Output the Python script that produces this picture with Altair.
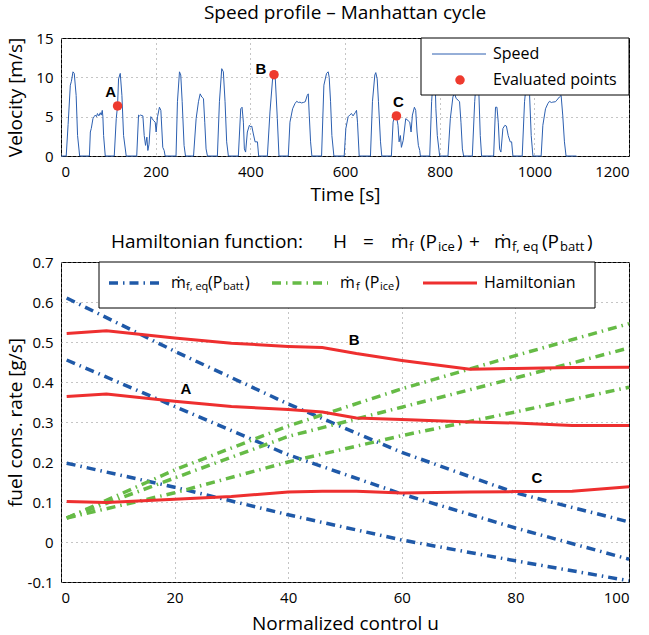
import altair as alt
import pandas as pd

FONT = "Open Sans"
LBL_FONT = "Liberation Sans"

# ---------------- Speed profile (Manhattan cycle) ----------------
speed_t = [0, 11, 15, 19.7, 22, 25.3, 28, 32, 35, 39.4,
           60, 62, 64, 67.5, 70, 72.4, 75, 77, 80, 83, 85, 87.2, 88.5, 90, 93.5,
           112.5, 116.7, 119.5, 121.6, 125.2, 128.7, 132.2, 137.8,
           160, 163.8, 166, 168, 173, 175.8, 178.6, 181.4, 183.5, 186, 189.8, 192, 195.5, 199, 201, 204, 208, 211, 215, 218, 220,
           243, 246, 250.3, 253, 256, 260, 263,
           280, 285.5, 290.4, 294, 297.4, 301, 303.7, 306.5, 309.4,
           330.4, 334.7, 339.6, 343, 346.6, 350, 353.6,
           374.7, 379.7, 382.5, 385.3, 387.4, 390, 393.7, 398, 401, 403, 406.4, 410, 415, 417.6,
           436, 441.5, 447, 450, 452.8, 457, 460.5,
           480.2, 483.7, 489.3, 494.2, 497.8, 502, 504.8, 508, 511.8, 516, 520.2, 522.4, 524.5, 527.3, 530,
           550.5, 555.4, 561, 564.5, 566.6, 569.5, 572.3, 576.5,
           598.3, 601.8, 606.7, 610, 613.7, 617, 621.5, 624.3, 626.4, 630,
           653.8, 658, 663, 665, 668, 670.7, 675, 677.7,
           698, 701.6, 705, 708.7, 712, 714.3, 717, 719.2, 723, 728.3, 733.3, 736.8, 739.6, 742.4, 746.6, 749.4, 752.2, 755, 757.9, 759.3,
           779, 783, 787.4, 790, 792, 795, 800,
           817.6, 822.5, 828, 831, 835, 839, 842, 845, 848, 850.6,
           869, 874, 877.4, 881, 883, 885.8, 888.6,
           914, 918, 921, 923.8, 926.6, 929.4, 933.6, 937.8, 941, 944.8, 949, 952, 954.7,
           974.4, 979.3, 984, 987, 990, 993.4, 997,
           1014.4, 1018, 1023.6, 1028.5, 1032, 1036, 1039, 1044.7, 1047.5, 1053, 1056.6, 1060, 1063.6, 1067,
           1089]
speed_v = [0, 0, 4.0, 9.0, 9.5, 10.7, 10.5, 7.7, 2.6, 0,
           0, 3.05, 3.5, 4.75, 5.0, 5.2, 5.0, 5.4, 5.1, 5.5, 5.2, 5.8, 5.0, 2.6, 0,
           0, 4.75, 6.4, 9.8, 10.5, 7.7, 2.6, 0,
           0, 5.2, 5.1, 5.2, 5.1, 2.6, 1.35, 2.4, 0.7, 1.5, 5.0, 4.8, 4.5, 4.3, 3.05, 5.0, 6.2, 5.8, 1.1, 0.7, 0,
           0, 6.9, 10.7, 10.3, 6.9, 1.35, 0,
           0, 4.75, 6.9, 7.9, 7.5, 7.3, 4.3, 0.9, 0,
           0, 6.9, 11.1, 10.7, 6.9, 1.8, 0,
           0, 6.0, 6.2, 4.3, 0.9, 0.5, 3.05, 3.9, 3.7, 3.8, 2.8, 1.8, 1.8, 0,
           0, 5.6, 9.8, 10.3, 9.8, 4.75, 0,
           0, 4.3, 6.0, 6.65, 6.95, 6.8, 6.85, 6.75, 6.8, 6.9, 7.7, 7.9, 5.2, 1.8, 0,
           0, 9.0, 10.5, 10.7, 10.0, 6.9, 2.6, 0,
           0, 3.5, 5.0, 5.2, 5.4, 5.1, 5.5, 5.8, 4.3, 0,
           0, 6.9, 10.3, 10.6, 9.8, 6.9, 1.8, 0,
           0, 4.3, 5.2, 5.1, 3.9, 1.8, 2.6, 1.1, 2.0, 4.75, 4.5, 4.3, 3.05, 5.2, 6.2, 5.8, 3.05, 1.35, 0.7, 0,
           0, 6.9, 10.7, 10.5, 6.0, 2.6, 0,
           0, 4.75, 7.5, 8.0, 7.3, 7.1, 6.9, 4.3, 0.9, 0,
           0, 6.9, 9.8, 11.0, 7.7, 2.6, 0,
           0, 6.2, 6.2, 4.3, 0.9, 0.5, 3.5, 3.9, 3.8, 2.6, 1.8, 1.8, 0,
           0, 6.9, 9.8, 10.3, 7.7, 2.6, 0,
           0, 3.9, 6.0, 6.65, 6.95, 6.8, 6.85, 6.9, 7.1, 7.5, 7.7, 5.2, 1.8, 0,
           0]

eval_t = [119.5, 450, 708.7]
eval_v = [6.36, 10.34, 5.1]
eval_label = ["A", "B", "C"]

# ---------------- Hamiltonian function ----------------
u_lines = [1, 20, 40, 60, 80, 100]
batt_A = [0.455, 0.339, 0.218, 0.12, 0.035, -0.043]
batt_B = [0.61, 0.477, 0.345, 0.224, 0.123, 0.05]
batt_C = [0.197, 0.137, 0.068, 0.005, -0.047, -0.097]
ice_1 = [0.06, 0.18, 0.29, 0.383, 0.466, 0.546]
ice_2 = [0.06, 0.16, 0.264, 0.337, 0.41, 0.485]
ice_3 = [0.06, 0.123, 0.2, 0.266, 0.325, 0.387]

u_ham = [1, 8, 20, 30, 40, 46, 52, 60, 72, 80, 90, 100]
ham_A = [0.364, 0.37, 0.352, 0.339, 0.331, 0.325, 0.31, 0.306, 0.3, 0.2975, 0.291, 0.291]
ham_B = [0.521, 0.528, 0.51, 0.497, 0.489, 0.486, 0.471, 0.454, 0.432, 0.434, 0.436, 0.437]
ham_C = [0.101, 0.099, 0.107, 0.114, 0.125, 0.127, 0.127, 0.1225, 0.125, 0.126, 0.127, 0.138]

ham_label = ["A", "B", "C"]
ham_label_u = [22, 51.6, 83.8]
ham_label_v = [0.35, 0.472, 0.127]

BLUE_SPEED = "#2c5fb0"
RED = "#ee3a2e"
BLUE = "#1f59a8"
GREEN = "#66bb46"
HRED = "#ee2f2f"
DASHDOT = [9, 5, 1.5, 5]

speed_df = pd.DataFrame({"t": speed_t, "v": speed_v})
eval_df = pd.DataFrame({"t": eval_t, "v": eval_v, "lbl": eval_label})


def long(u, series):
    rows = []
    for name, vals in series.items():
        for x, y in zip(u, vals):
            rows.append({"u": x, "v": y, "s": name})
    return pd.DataFrame(rows)


batt_df = long(u_lines, {"A": batt_A, "B": batt_B, "C": batt_C})
ice_df = long(u_lines, {"1": ice_1, "2": ice_2, "3": ice_3})
ham_df = long(u_ham, {"A": ham_A, "B": ham_B, "C": ham_C})
hlab_df = pd.DataFrame({"u": ham_label_u, "v": ham_label_v, "lbl": ham_label})

ONE = pd.DataFrame({"k": [0]})


def txt(s, x, y, size, dy=0, weight="normal", font=FONT):
    return alt.Chart(ONE).mark_text(text=s, align="left", baseline="middle", fontSize=size,
                                    font=font, fontWeight=weight, dy=dy, color="black").encode(
        x=alt.value(x), y=alt.value(y))


def swatch(x1, x2, y, color, width, dash=None):
    kw = dict(color=color, strokeWidth=width)
    if dash:
        kw["strokeDash"] = dash
    return alt.Chart(ONE).mark_rule(**kw).encode(x=alt.value(x1), x2=alt.value(x2), y=alt.value(y))


def box(x1, x2, y1, y2):
    return alt.Chart(ONE).mark_rect(fill="white", stroke="black", strokeWidth=1).encode(
        x=alt.value(x1), x2=alt.value(x2), y=alt.value(y1), y2=alt.value(y2))


# ---------------- top chart ----------------
tx = alt.X("t:Q", scale=alt.Scale(domain=[0, 1200], nice=False),
           axis=alt.Axis(values=list(range(0, 1201, 200)), tickCount=50, format="d", title="Time [s]",
                         titleY=38, titleBaseline="middle"))
ty = alt.Y("v:Q", scale=alt.Scale(domain=[0, 15], nice=False),
           axis=alt.Axis(values=[0, 5, 10, 15], tickCount=50, format="d", title="Velocity [m/s]",
                         titleX=-46, titleBaseline="middle"))

speed = alt.Chart(speed_df).mark_line(color=BLUE_SPEED, strokeWidth=1).encode(x=tx, y=ty)
pts = alt.Chart(eval_df).mark_circle(color=RED, size=90, opacity=1).encode(x="t:Q", y="v:Q")

offsets = {"A": (-7, -14), "B": (-13, -6), "C": (2, -14)}
lbls = [alt.Chart(eval_df).transform_filter(alt.datum.lbl == k).mark_text(
    font=LBL_FONT, fontWeight="bold", fontSize=15, dx=d[0], dy=d[1], color="black").encode(
    x="t:Q", y="v:Q", text="lbl:N") for k, d in offsets.items()]

top_legend = [
    box(360, 568, 0, 57),
    swatch(371, 425, 16, BLUE_SPEED, 1),
    alt.Chart(ONE).mark_circle(color=RED, size=90, opacity=1).encode(x=alt.value(399), y=alt.value(42)),
    txt("Speed", 432, 16, 16),
    txt("Evaluated points", 432, 42, 16),
]

top = alt.layer(speed, pts, *lbls, *top_legend).properties(
    width=568, height=118,
    title=alt.TitleParams("Speed profile – Manhattan cycle", font=FONT, fontSize=19,
                          fontWeight="normal", color="black", offset=8))

# ---------------- bottom chart ----------------
bx = alt.X("u:Q", scale=alt.Scale(domain=[0, 100], nice=False),
           axis=alt.Axis(values=[0, 20, 40, 60, 80, 100], tickCount=50, title="Normalized control u",
                         titleY=41, titleBaseline="middle"))
by = alt.Y("v:Q", scale=alt.Scale(domain=[-0.1, 0.7], nice=False),
           axis=alt.Axis(values=[-0.1, 0, 0.1, 0.2, 0.3, 0.4, 0.5, 0.6, 0.7], tickCount=50,
                         title="fuel cons. rate [g/s]", titleX=-46, titleBaseline="middle",
                         labelExpr="datum.value < 0 ? '-' + format(-datum.value, '.1f') : (abs(datum.value) < 1e-9 ? '0' : format(datum.value, '.1f'))"))

batt = alt.Chart(batt_df).mark_line(color=BLUE, strokeWidth=3.5, strokeDash=DASHDOT).encode(
    x=bx, y=by, detail="s:N")
ice = alt.Chart(ice_df).mark_line(color=GREEN, strokeWidth=3.5, strokeDash=DASHDOT).encode(
    x="u:Q", y="v:Q", detail="s:N")
ham = alt.Chart(ham_df).mark_line(color=HRED, strokeWidth=3).encode(x="u:Q", y="v:Q", detail="s:N")
hlab = alt.Chart(hlab_df).mark_text(font=LBL_FONT, fontWeight="bold", fontSize=15, dy=-13,
                                    color="black").encode(x="u:Q", y="v:Q", text="lbl:N")

TY = -20
SUB = 13
title_parts = [
    txt("Hamiltonian function:", 50, TY, 19),
    txt("H", 272, TY, 19),
    txt("=", 302, TY, 19),
    txt("ṁ", 330, TY, 19),
    txt("f", 348, TY, SUB, dy=5),
    txt("(P", 359, TY, 19),
    txt("ice", 377, TY, SUB, dy=5),
    txt(")", 396, TY, 19),
    txt("+", 408, TY, 19),
    txt("ṁ", 433, TY, 19),
    txt("f, eq", 451, TY, SUB, dy=5),
    txt("(P", 481, TY, 19),
    txt("batt", 499, TY, SUB, dy=5),
    txt(")", 526, TY, 19),
]

LY = 21
bottom_legend = [
    box(38, 534, 0, 46),
    swatch(48, 102, LY, BLUE, 3.5, DASHDOT),
    txt("ṁ", 110, LY, 16),
    txt("f, eq", 125, LY, 11, dy=4),
    txt("(P", 147, LY, 16),
    txt("batt", 162, LY, 11, dy=4),
    txt(")", 184, LY, 16),
    swatch(211, 267, LY, GREEN, 3.5, DASHDOT),
    txt("ṁ", 279, LY, 16),
    txt("f", 295, LY, 11, dy=4),
    txt("(P", 304, LY, 16),
    txt("ice", 319, LY, 11, dy=4),
    txt(")", 334, LY, 16),
    swatch(362, 416, LY, HRED, 3),
    txt("Hamiltonian", 423, LY, 16),
]

bottom = alt.layer(batt, ice, ham, hlab, *bottom_legend, *title_parts).properties(width=568, height=320)

chart = alt.vconcat(top, bottom, spacing=106, bounds="flush").properties(
    padding={"left": 5, "top": 3, "right": 5, "bottom": 0}
).configure_axis(
    labelFont=FONT, labelFontSize=15, labelColor="black", labelPadding=8, labelOverlap=False,
    titleFont=FONT, titleFontSize=19, titleFontWeight="normal", titleColor="black",
    domain=False, ticks=False, grid=True, gridColor="#8a8a8a", gridDash=[1, 4], gridWidth=1,
).configure_view(stroke="black", strokeWidth=1)

chart.save("out.html", embed_options={"renderer": "svg", "actions": False})
